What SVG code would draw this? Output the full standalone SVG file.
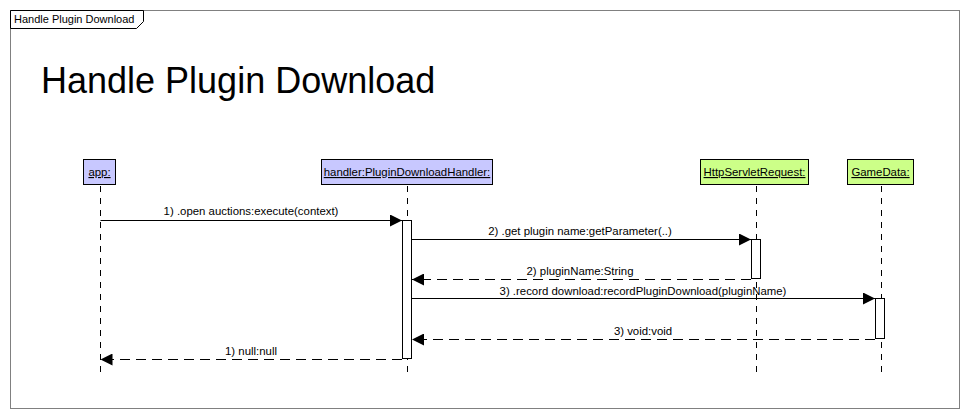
<svg xmlns="http://www.w3.org/2000/svg" width="970" height="419" viewBox="0 0 970 419">
<defs>
<style>
.t{font-family:"Liberation Sans",Arial,sans-serif;font-size:11.4px;fill:#000}
.u{text-decoration:underline}
.life{stroke:#000;stroke-width:1;stroke-dasharray:6,6}
.box{stroke:#000;stroke-width:1}
.act{fill:#fff;stroke:#000;stroke-width:1}
.msg{stroke:#000;stroke-width:1;fill:none}
.ret{stroke:#000;stroke-width:1;fill:none;stroke-dasharray:10,6}
</style>
<marker id="ah" viewBox="0 0 12 12" refX="12" refY="6" markerWidth="12" markerHeight="12" markerUnits="userSpaceOnUse" orient="auto">
<path d="M0,0 L12,6 L0,12 Z" fill="#000"/>
</marker>
</defs>
<rect x="0" y="0" width="970" height="419" fill="#fff"/>
<g id="frame">
<rect x="10.5" y="10.5" width="949" height="398" fill="none" stroke="#808080" stroke-width="1"/>
<path d="M10.5,10.5 H143.5 V21.5 L136.5,28.5 H10.5 Z" fill="#fff" stroke="#000" stroke-width="1"/>
<text x="14" y="23" style="font-family:'Liberation Sans',Arial,sans-serif;font-size:11px" fill="#000">Handle Plugin Download</text>
<text x="41" y="93" style="font-family:'Liberation Sans',Arial,sans-serif;font-size:36px" fill="#000">Handle Plugin Download</text>
</g>
<g id="app">
<line class="life" x1="100.5" y1="186" x2="100.5" y2="374"/>
<rect class="box" x="83.5" y="159.5" width="32" height="25" fill="#c8c8ff"/>
<text class="t u" x="99.5" y="176" text-anchor="middle">app:</text>
</g>
<g id="handler">
<line class="life" x1="407.5" y1="186" x2="407.5" y2="374"/>
<rect class="box" x="321.5" y="159.5" width="171" height="25" fill="#c8c8ff"/>
<text class="t u" x="407" y="176" text-anchor="middle">handler:PluginDownloadHandler:</text>
<rect class="act" x="402.5" y="220.5" width="9" height="138"/>
</g>
<g id="request">
<line class="life" x1="756.5" y1="186" x2="756.5" y2="374"/>
<rect class="box" x="700.5" y="159.5" width="108" height="25" fill="#ccff88"/>
<text class="t u" x="754.5" y="176" text-anchor="middle">HttpServletRequest:</text>
<rect class="act" x="751.5" y="239.5" width="9" height="39"/>
</g>
<g id="gamedata">
<line class="life" x1="881.5" y1="186" x2="881.5" y2="374"/>
<rect class="box" x="847.5" y="159.5" width="66" height="25" fill="#ccff88"/>
<text class="t u" x="880.5" y="176" text-anchor="middle">GameData:</text>
<rect class="act" x="875.5" y="298.5" width="9" height="40"/>
</g>
<g id="connectors">
<line class="msg" x1="100.5" y1="220.5" x2="402" y2="220.5" marker-end="url(#ah)"/>
<text class="t" x="251" y="215" text-anchor="middle">1) .open auctions:execute(context)</text>
<line class="msg" x1="412" y1="239.5" x2="751" y2="239.5" marker-end="url(#ah)"/>
<text class="t" x="580" y="235" text-anchor="middle">2) .get plugin name:getParameter(..)</text>
<line class="ret" x1="751" y1="279.5" x2="412" y2="279.5" marker-end="url(#ah)"/>
<text class="t" x="580" y="275" text-anchor="middle">2) pluginName:String</text>
<line class="msg" x1="412" y1="298.5" x2="875" y2="298.5" marker-end="url(#ah)"/>
<text class="t" x="643" y="295" text-anchor="middle">3) .record download:recordPluginDownload(pluginName)</text>
<line class="ret" x1="875" y1="339.5" x2="412" y2="339.5" marker-end="url(#ah)"/>
<text class="t" x="643" y="335" text-anchor="middle">3) void:void</text>
<line class="ret" x1="402" y1="359.5" x2="100.5" y2="359.5" marker-end="url(#ah)"/>
<text class="t" x="251" y="355" text-anchor="middle">1) null:null</text>
</g>
</svg>
